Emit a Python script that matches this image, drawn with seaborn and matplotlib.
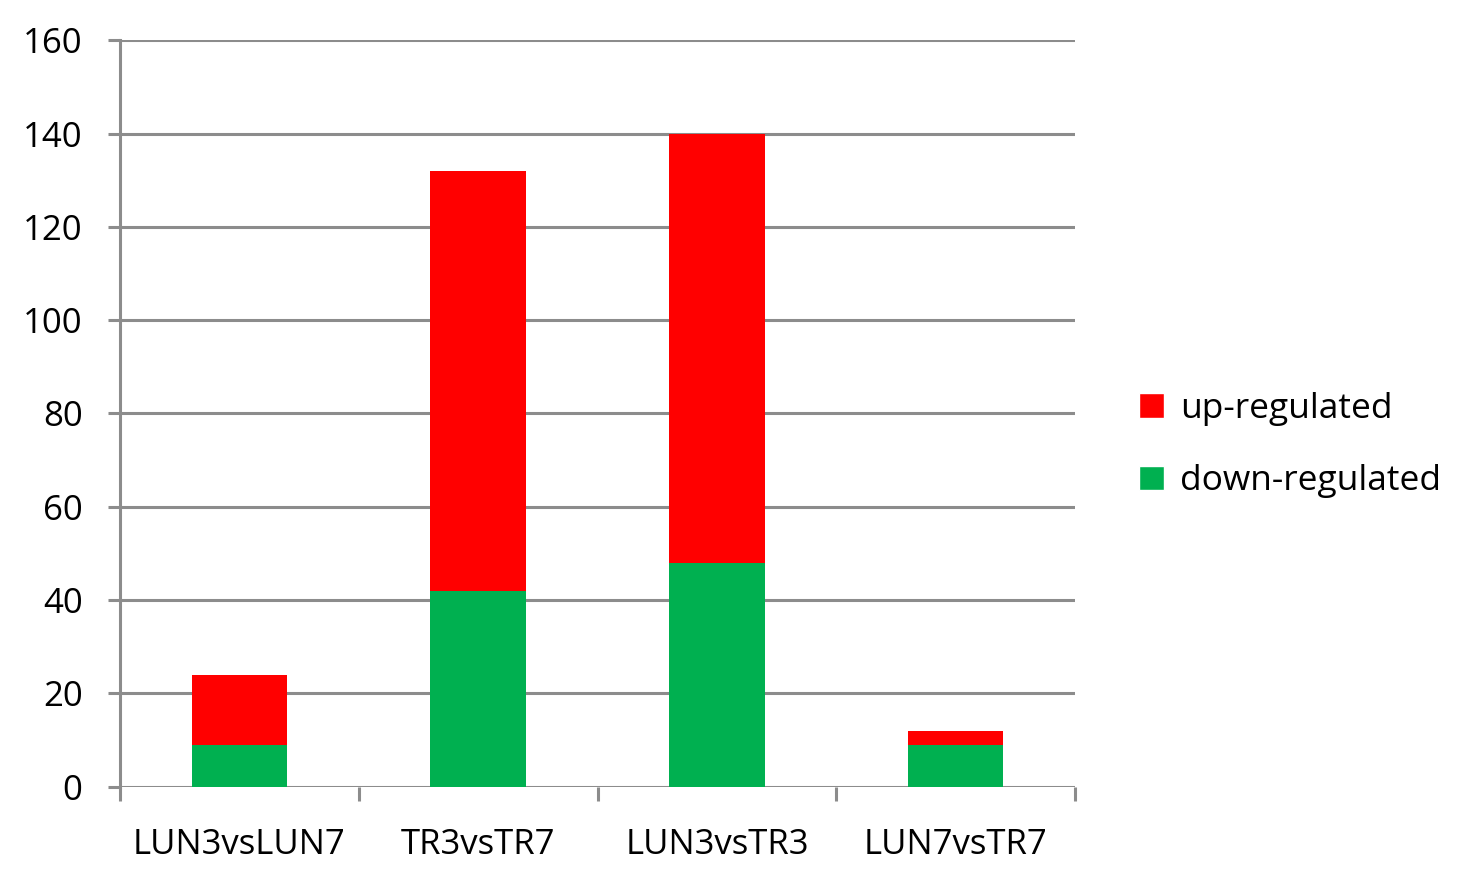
import matplotlib
matplotlib.use("Agg")
import matplotlib.pyplot as plt
import seaborn as sns
import pandas as pd
import numpy as np
from matplotlib.patches import Patch

# dados
categories = ["LUN3vsLUN7", "TR3vsTR7", "LUN3vsTR3", "LUN7vsTR7"]
down_regulated = [9, 42, 48, 9]
up_regulated = [15, 90, 92, 3]
totals = [d + u for d, u in zip(down_regulated, up_regulated)]

df = pd.DataFrame({"comparison": categories, "down": down_regulated, "total": totals})

sns.set_style("white")
plt.rcParams["font.family"] = ["Open Sans", "DejaVu Sans"]
plt.rcParams["text.color"] = "black"
plt.rcParams["xtick.color"] = "black"
plt.rcParams["ytick.color"] = "black"

red = "#FF0000"
green = "#00B050"
grid_color = "#8C8C8C"

fig = plt.figure(figsize=(14.67, 8.76), dpi=100)
ax = fig.add_axes([0.0818, 0.102, 0.651, 0.852])

# barras empilhadas: total em vermelho, verde por cima
sns.barplot(data=df, x="comparison", y="total", color=red, width=0.4,
            saturation=1, linewidth=0, ax=ax, zorder=3)
sns.barplot(data=df, x="comparison", y="down", color=green, width=0.4,
            saturation=1, linewidth=0, ax=ax, zorder=4)

ax.set_xlim(-0.5, 3.5)
ax.set_ylim(0, 160)
ax.set_yticks(np.arange(0, 161, 20))
ax.yaxis.grid(True, color=grid_color, linewidth=2.2, zorder=0)
ax.set_axisbelow(True)

ax.set_xlabel("")
ax.set_ylabel("")

for s in ["top", "right", "bottom"]:
    ax.spines[s].set_visible(False)
ax.spines["left"].set_color(grid_color)
ax.spines["left"].set_linewidth(2.2)

ax.tick_params(axis="y", left=True, direction="out", length=9, width=2.2,
               color=grid_color, labelcolor="black", pad=18, labelsize=25)
ax.tick_params(axis="x", which="major", bottom=True, length=0, pad=30,
               labelsize=25, labelcolor="black")
ax.set_xticks(np.arange(-0.5, 3.6, 1), minor=True)
ax.tick_params(axis="x", which="minor", bottom=True, direction="out", length=10,
               width=2.2, color=grid_color)

handles = [Patch(facecolor=red, label="up-regulated"),
           Patch(facecolor=green, label="down-regulated")]
fig.legend(handles=handles, loc="center left", bbox_to_anchor=(0.755, 0.492),
           frameon=False, fontsize=25.5, handlelength=0.7, handleheight=0.7,
           handletextpad=0.45, labelspacing=1.1)

plt.savefig("out.png", dpi=100)
